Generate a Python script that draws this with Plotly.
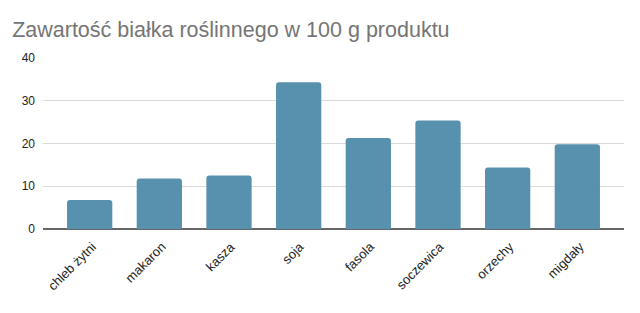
import plotly.graph_objects as go

categories = ["chleb żytni", "makaron", "kasza", "soja", "fasola", "soczewica", "orzechy", "migdały"]
values = [6.8, 11.8, 12.5, 34.3, 21.3, 25.4, 14.4, 19.8]
y_ticks = [0, 10, 20, 30, 40]

fig = go.Figure(go.Bar(
    x=categories, y=values,
    marker=dict(color="#5891AD", cornerradius=3, line=dict(width=0)),
))

for c in categories:
    fig.add_annotation(x=c, y=0, xref="x", yref="y", text=c, showarrow=False,
                       textangle=-45, xanchor="right", yanchor="top",
                       xshift=12, yshift=-7,
                       font=dict(family="Liberation Sans, Arial, sans-serif", size=13, color="#222222"))

fig.update_layout(
    width=640, height=313,
    margin=dict(l=43, r=16, t=58, b=84),
    paper_bgcolor="white", plot_bgcolor="white",
    bargap=0.35,
    showlegend=False,
    title=dict(text="Zawartość białka roślinnego w 100 g produktu",
               x=0.019, xanchor="left", y=0.905, yanchor="middle",
               font=dict(family="Liberation Sans, Arial, sans-serif", size=21.5, color="#757575")),
    font=dict(family="Liberation Sans, Arial, sans-serif", size=12, color="#222222"),
)
fig.update_xaxes(range=[-0.67, 7.67], showticklabels=False, showgrid=False,
                 showline=False, ticks="")
fig.update_yaxes(range=[0, 40], tickvals=y_ticks, showgrid=True, gridcolor="#DADADA",
                 gridwidth=1, zeroline=True, zerolinecolor="#666666", zerolinewidth=1.5,
                 ticks="", ticklabelstandoff=7, tickfont=dict(size=12, color="#222222"))

fig.write_html("out.html")
